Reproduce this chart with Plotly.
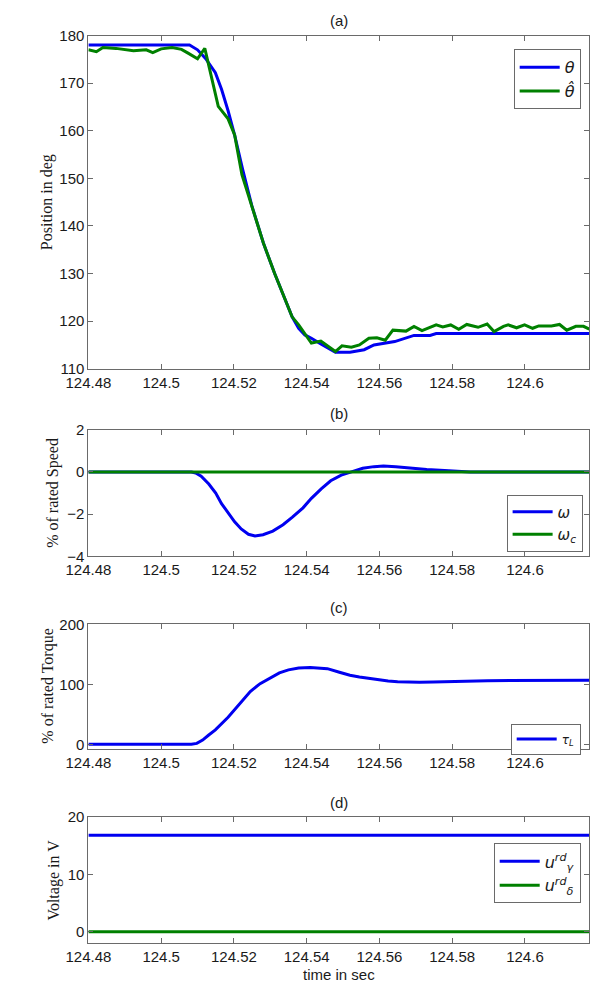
import plotly.graph_objects as go

# ---------------- data ----------------
T_MIN, T_MAX = 124.48, 124.6177
x_ticks = [124.48, 124.50, 124.52, 124.54, 124.56, 124.58, 124.60]
x_ticktext = ["124.48", "124.5", "124.52", "124.54", "124.56", "124.58", "124.6"]

# (a) position
theta_t = [124.48, 124.5078, 124.5100, 124.5122, 124.5149, 124.5166, 124.5184, 124.5202,
           124.5224, 124.5249, 124.5281, 124.5312, 124.5360, 124.5378, 124.5395, 124.5413,
           124.5439, 124.5479, 124.5519, 124.5558, 124.5585, 124.5642, 124.5695, 124.5739,
           124.5756, 124.6177]
theta_v = [178.0, 178.0, 177.0, 175.2, 172.2, 168.7, 164.2, 159.1,
           151.9, 144.3, 136.4, 130.0, 120.9, 118.5, 117.1, 116.4,
           115.2, 113.45, 113.45, 114.0, 115.0, 115.7, 117.0, 117.0,
           117.4, 117.4]

thetahat_t = [124.48, 124.4822, 124.4840, 124.4876, 124.4924, 124.4959, 124.4977, 124.5000,
              124.5030, 124.5056, 124.5074, 124.5100, 124.5120, 124.5136, 124.5157, 124.5184,
              124.5202, 124.5222, 124.5249, 124.5281, 124.5312, 124.5360, 124.5378, 124.5413,
              124.5439, 124.5479, 124.5497, 124.5523, 124.5545, 124.5571, 124.5593, 124.5616,
              124.5637, 124.5673, 124.5695, 124.5717, 124.5756, 124.5774, 124.5796, 124.5818,
              124.5840, 124.5871, 124.5896, 124.5915, 124.5941, 124.5954, 124.5977, 124.5999,
              124.6021, 124.6038, 124.6073, 124.6095, 124.6115, 124.6140, 124.6161, 124.6177]
thetahat_v = [177.0, 176.6, 177.5, 177.3, 176.8, 177.0, 176.4, 177.2,
              177.5, 177.1, 176.3, 175.1, 177.3, 171.8, 165.1, 162.5,
              159.1, 150.8, 144.3, 136.4, 130.0, 120.9, 119.2, 115.4,
              115.8, 113.6, 114.8, 114.5, 115.0, 116.4, 116.5, 116.0,
              118.1, 117.9, 118.9, 118.0, 119.2, 118.8, 119.2, 118.3,
              119.3, 118.7, 119.4, 117.8, 118.9, 119.2, 118.6, 119.2,
              118.5, 119.0, 119.0, 119.3, 118.1, 118.9, 118.9, 118.3]

# (b) speed
omega_t = [124.48, 124.5083, 124.5095, 124.5110, 124.5131, 124.5150, 124.5166, 124.5185,
           124.5202, 124.5220, 124.5240, 124.5258, 124.5280, 124.5307, 124.5335, 124.5360,
           124.5390, 124.5413, 124.5440, 124.5466, 124.5495, 124.5523, 124.5554, 124.5585,
           124.5611, 124.5645, 124.5677, 124.5730, 124.5791, 124.5849, 124.6177]
omega_v = [0.0, 0.0, -0.05, -0.2, -0.57, -1.0, -1.5, -1.95,
           -2.36, -2.7, -2.95, -3.03, -2.97, -2.8, -2.5, -2.15,
           -1.7, -1.25, -0.8, -0.42, -0.15, 0.0, 0.17, 0.25,
           0.28, 0.25, 0.2, 0.11, 0.06, 0.0, 0.0]
omegac_t = [124.48, 124.6177]
omegac_v = [0.0, 0.0]

# (c) torque
tau_t = [124.48, 124.5083, 124.5098, 124.5114, 124.5130, 124.5149, 124.5184, 124.5219,
         124.5245, 124.5272, 124.5300, 124.5325, 124.5350, 124.5378, 124.5410, 124.5457,
         124.5490, 124.5519, 124.5545, 124.5571, 124.5600, 124.5624, 124.5650, 124.5677,
         124.5710, 124.5748, 124.5809, 124.5897, 124.6177]
tau_v = [0.0, 0.0, 1.5, 7.0, 15.0, 24.0, 45.0, 70.0,
         88.0, 101.0, 111.0, 119.0, 124.0, 127.0, 128.0, 126.0,
         120.0, 115.0, 112.0, 109.5, 107.0, 105.6, 104.3, 103.6,
         103.3, 103.6, 105.0, 106.0, 106.7]

# (d) voltage
u_t = [124.48, 124.6177]
ugamma_v = [16.8, 16.8]
udelta_v = [0.0, 0.0]

# ---------------- styling ----------------
W, H = 598, 991
BLUE = "#0000f0"
GREEN = "#008000"
AX = "#6a6a6a"
SANS = "Liberation Sans, Arial, sans-serif"
SERIF = "Liberation Serif, Times New Roman, serif"
MATH = "DejaVu Sans, sans-serif"

def py(px):
    return 1 - px / H

def px_x(px):
    return px / W

X0, X1 = 68, 589
panels = [  # (top px, bottom px)
    (27, 366), (428, 557), (626, 753), (822, 950)
]

fig = go.Figure()
LW = 3

fig.add_trace(go.Scatter(x=theta_t, y=theta_v, mode="lines", line=dict(color=BLUE, width=LW),
                         name="<i>θ</i>", xaxis="x", yaxis="y", legend="legend"))
fig.add_trace(go.Scatter(x=thetahat_t, y=thetahat_v, mode="lines", line=dict(color=GREEN, width=LW),
                         name="<i>θ\u0302</i>", xaxis="x", yaxis="y", legend="legend"))
fig.add_trace(go.Scatter(x=omega_t, y=omega_v, mode="lines", line=dict(color=BLUE, width=LW),
                         name="<i>ω</i>", xaxis="x2", yaxis="y2", legend="legend2"))
fig.add_trace(go.Scatter(x=omegac_t, y=omegac_v, mode="lines", line=dict(color=GREEN, width=LW),
                         name="<i>ω<sub>c</sub></i>", xaxis="x2", yaxis="y2", legend="legend2"))
fig.add_trace(go.Scatter(x=tau_t, y=tau_v, mode="lines", line=dict(color=BLUE, width=LW),
                         name="<i>τ<sub>L</sub></i>", xaxis="x3", yaxis="y3", legend="legend3"))
fig.add_trace(go.Scatter(x=u_t, y=ugamma_v, mode="lines", line=dict(color=BLUE, width=LW),
                         name="<i>u</i><sup><i>rd</i></sup><sub><i>γ</i></sub>", xaxis="x4", yaxis="y4", legend="legend4"))
fig.add_trace(go.Scatter(x=u_t, y=udelta_v, mode="lines", line=dict(color=GREEN, width=LW),
                         name="<i>u</i><sup><i>rd</i></sup><sub><i>δ</i></sub>", xaxis="x4", yaxis="y4", legend="legend4"))

y_ranges = [[110, 180], [-4, 2], [-8, 200], [-1.9, 20]]
y_ticks = [[110, 120, 130, 140, 150, 160, 170, 180], [-4, -2, 0, 2], [0, 100, 200], [0, 10, 20]]

common_axis = dict(showline=True, linecolor=AX, linewidth=1, mirror="ticks",
                   ticks="inside", ticklen=5, tickcolor=AX, showgrid=False, zeroline=False,
                   tickfont=dict(family=SANS, size=15, color="#1a1a1a"))

layout = dict(width=W, height=H, margin=dict(l=0, r=0, t=0, b=0),
              paper_bgcolor="white", plot_bgcolor="white", showlegend=True)

for i, (top, bot) in enumerate(panels):
    sfx = "" if i == 0 else str(i + 1)
    layout["xaxis" + sfx] = dict(common_axis, domain=[px_x(X0), px_x(X1)], range=[T_MIN, T_MAX],
                                 tickvals=x_ticks, ticktext=x_ticktext,
                                 anchor="y" + sfx)
    layout["yaxis" + sfx] = dict(common_axis, domain=[py(bot), py(top)], range=y_ranges[i],
                                 tickvals=y_ticks[i], anchor="x" + sfx)

legend_common = dict(bgcolor="white", bordercolor=AX, borderwidth=1,
                     font=dict(family=MATH, size=16, color="#1a1a1a"),
                     xanchor="right", yanchor="top", itemwidth=40, tracegroupgap=0)
layout["legend"] = dict(legend_common, x=px_x(580), y=py(41))
layout["legend2"] = dict(legend_common, x=px_x(582), y=py(494), font=dict(family=MATH, size=15, color="#1a1a1a"))
layout["legend3"] = dict(legend_common, x=px_x(580), y=py(727), font=dict(family=MATH, size=12, color="#1a1a1a"))
layout["legend4"] = dict(legend_common, x=px_x(580), y=py(849), font=dict(family=MATH, size=16, color="#1a1a1a"))

fig.update_layout(**layout)

# panel titles
titles = ["(a)", "(b)", "(c)", "(d)"]
title_y = [12, 412, 609, 807]
for t, yy in zip(titles, title_y):
    fig.add_annotation(text=t, x=px_x((X0 + X1) / 2), y=py(yy), xref="paper", yref="paper",
                       showarrow=False, font=dict(family=SANS, size=15, color="#1a1a1a"),
                       xanchor="center", yanchor="middle")

# y-axis labels
ylabels = ["Position in deg", "% of rated Speed", "% of rated Torque", "Voltage in V"]
ylab_x = [25, 31, 26, 32]
for lab, (top, bot), xx in zip(ylabels, panels, ylab_x):
    fig.add_annotation(text=lab, x=px_x(xx), y=py((top + bot) / 2), xref="paper", yref="paper",
                       showarrow=False, textangle=-90, font=dict(family=SERIF, size=16, color="#1a1a1a"),
                       xanchor="center", yanchor="middle")

fig.add_annotation(text="time in sec", x=px_x((X0 + X1) / 2), y=py(982), xref="paper", yref="paper",
                   showarrow=False, font=dict(family=SANS, size=15, color="#1a1a1a"),
                   xanchor="center", yanchor="middle")

fig.write_html("out.html")
